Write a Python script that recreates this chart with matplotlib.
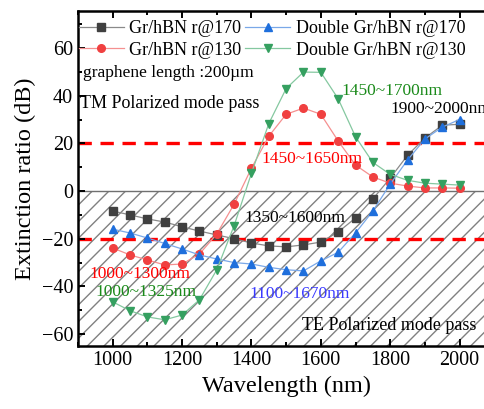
import numpy as np
import matplotlib.pyplot as plt
from matplotlib.ticker import MultipleLocator

plt.rcParams['font.family'] = ['Liberation Serif', 'DejaVu Serif']

wavelength = np.arange(1000, 2001, 50)

gr_170 = [-8.4, -10, -11.7, -13, -15, -16.8, -18.4, -20, -21.8, -23, -23.4,
          -22.6, -21.4, -17.2, -11.3, -3.3, 5.4, 15, 22.2, 27.6, 28]
gr_130 = [-23.9, -26.8, -28.9, -31, -30.6, -26.4, -18, -5.5, 9.6, 23, 32.2,
          34.8, 32.2, 21, 10.9, 5.9, 3.3, 2.1, 1.3, 1.3, 1.2]
dbl_170 = [-16, -17.6, -19.7, -22, -24.3, -26.8, -28.5, -30, -30.6, -32, -33,
           -33.5, -29.3, -25.7, -17.6, -8.4, 2.9, 13, 21.8, 26.8, 30]
dbl_130 = [-46.5, -50.2, -52.8, -54, -52, -45.6, -33, -14.5, 7.5, 28.3, 43,
           49.9, 49.8, 38.7, 22.8, 12, 7, 4.5, 3.3, 2.9, 2.5]

series = [
    (gr_170, "Gr/hBN r@170", "s", "#404040", "#8a8a8a"),
    (gr_130, "Gr/hBN r@130", "o", "#f04040", "#f59090"),
    (dbl_170, "Double Gr/hBN r@170", "^", "#1f6fdc", "#7aa8e8"),
    (dbl_130, "Double Gr/hBN r@130", "v", "#35a060", "#85c8a0"),
]

fig = plt.figure(figsize=(4.85, 4.09), dpi=100)
ax = fig.add_axes([0.161, 0.154, 0.858, 0.819])

# TE region hatch
ax.axhspan(-65, 0, facecolor="none", edgecolor="#808080", hatch="//", linewidth=0, zorder=0)
ax.axhline(0, color="#707070", lw=1, zorder=1)
ax.axhline(20, color="red", lw=2.4, ls=(0, (4, 2.6)), zorder=1)
ax.axhline(-20, color="red", lw=2.4, ls=(0, (4, 2.6)), zorder=1)

for y, label, mk, mc, lc in series:
    ax.plot(wavelength, y, color=lc, lw=0.9, marker=mk, ms=5.5,
            markerfacecolor=mc, markeredgecolor=mc, label=label, zorder=3)

ax.set_xlim(900, 2100)
ax.set_ylim(-65, 75.5)
ax.xaxis.set_major_locator(MultipleLocator(200))
ax.xaxis.set_minor_locator(MultipleLocator(100))
ax.yaxis.set_major_locator(MultipleLocator(20))
ax.yaxis.set_minor_locator(MultipleLocator(10))
ax.tick_params(which="both", direction="in", top=True, width=1.4, labelsize=14.5)
ax.tick_params(which="major", length=5)
ax.tick_params(which="minor", length=3)
for s in ax.spines.values():
    s.set_linewidth(1.8)

ax.set_xlabel("Wavelength (nm)", fontsize=17.5)
ax.set_ylabel("Extinction ratio (dB)", fontsize=17.5)

ax.legend(ncol=2, loc="upper left", frameon=False, fontsize=13,
          bbox_to_anchor=(-0.02, 1.0), handlelength=2.5, columnspacing=0.2,
          handletextpad=0.3, labelspacing=0.25, borderaxespad=0.1)

ax.text(915, 49.4, "graphene length :200\u00b5m", fontsize=12.5, va="center")
ax.text(905, 36.6, "TM Polarized mode pass", fontsize=13, va="center")
ax.text(1660, 42, "1450~1700nm", fontsize=12.5, color="#1a8a1a", va="center")
ax.text(1800, 34.5, "1900~2000nm", fontsize=12.5, color="black", va="center")
ax.text(1430, 13.5, "1450~1650nm", fontsize=12.5, color="red", va="center")
ax.text(1380, -11.5, "1350~1600nm", fontsize=12.5, color="black", va="center")
ax.text(933, -35, "1000~1300nm", fontsize=12.5, color="red", va="center")
ax.text(950, -42.5, "1000~1325nm", fontsize=12.5, color="#1a8a1a", va="center")
ax.text(1395, -43, "1100~1670nm", fontsize=12.5, color="#3a3aff", va="center")
ax.text(1546, -56.5, "TE Polarized mode pass", fontsize=13, va="center")

fig.savefig("out.png", dpi=100)
